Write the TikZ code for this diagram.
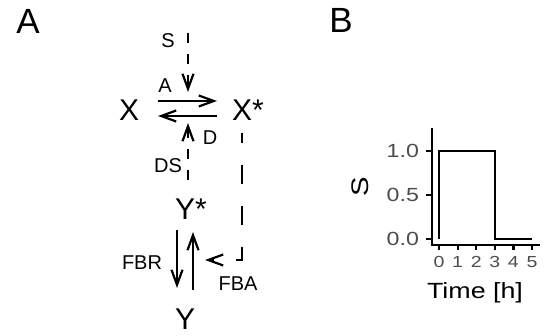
\documentclass[tikz,border=0pt]{standalone}
\usepackage{fontspec}
\usepackage{graphicx}
\setmainfont{Liberation Sans}
\usetikzlibrary{arrows.meta}
\definecolor{tickgray}{gray}{0.3}
\newcommand{\fsz}[1]{\fontsize{#1}{#1}\selectfont}
\newcommand{\wide}[1]{\scalebox{1.22}[1]{#1}}

\begin{document}
\begin{tikzpicture}[x=1pt,y=-1pt,line width=2.2pt,>={Straight Barb[length=15pt,width=11pt]},
	species/.style={inner sep=0pt,anchor=base west,font=\fsz{30}},
	rate/.style={inner sep=0pt,anchor=base,font=\fsz{20}},
	panel/.style={inner sep=0pt,font=\fsz{35}},
	sig/.style={dash pattern=on 10pt off 11pt},
	fb/.style={dash pattern=on 19pt off 22pt,dash phase=9pt},
	ytick/.style={inner sep=0pt,anchor=east,text=tickgray,font=\fsz{19}},
	xtick/.style={inner sep=0pt,text=tickgray,font=\fsz{16}}]
	\useasboundingbox (0,0) rectangle (547,336);
	\node[panel] (pA) at (28,21) {A};
	\node[panel] (pB) at (341,20) {B};
	% species
	\node[species] (X) at (118,121) {X};
	\node[species] (Xs) at (231,121) {X*};
	\node[species] (Ys) at (174,220) {Y*};
	\node[species] (Y) at (174,330) {Y};
	% rates
	\node[rate] (rA) at (165,93) {A};
	\node[rate] (rD) at (210,145) {D};
	\node[rate] (rS) at (168,48) {S};
	\node[rate] (rDS) at (168,173) {DS};
	\node[rate] (rFBR) at (142,270) {FBR};
	\node[rate] (rFBA) at (238,291) {FBA};
	% arrow ends
	\coordinate (aL) at (158,101); \coordinate (aR) at (217,101);
	\coordinate (dL) at (158,116); \coordinate (dR) at (217,116);
	\coordinate (sIn) at (188,33); \coordinate (sOn) at (188,92);
	\coordinate (dsIn) at (188,180); \coordinate (dsOn) at (188,123);
	\coordinate (fbIn) at (242,133); \coordinate (fbC) at (242,260); \coordinate (fbOn) at (205,260);
	\coordinate (rTop) at (177,230); \coordinate (rBot) at (177,288);
	\coordinate (fTop) at (193,232); \coordinate (fBot) at (193,290);
	\draw[->] (aL) -- (aR);
	\draw[->] (dR) -- (dL);
	\draw[->,sig] (sIn) -- (sOn);
	\draw[->,sig] (dsIn) -- (dsOn);
	\draw[->,fb] (fbIn) -- (fbC) -- (fbOn);
	\draw[->] (rTop) -- (rBot);
	\draw[->] (fBot) -- (fTop);
	% panel B: S over time
	\draw[line width=2.4pt] (432,128) -- (432,245) -- (540,245);
	\foreach \v/\y in {0.0/239,0.5/195,1.0/151} {
		\draw (426,\y) -- (432,\y);
		\node[ytick] (yt\v) at (420,\y) {\wide{\v}};
	}
	\foreach \i in {0,...,5} {
		\draw ({439+18.6*\i},245) -- ++(0,5);
		\node[xtick] (xt\i) at ({439+18.6*\i},262) {\wide{\i}};
	}
	\draw[line width=2.6pt] plot coordinates {(439,239) (439,151) (495,151) (495,239) (532,239)};
	\node[rotate=90,inner sep=0pt,font=\fsz{24}] (yl) at (360,187) {\wide{S}};
	\node[inner sep=0pt,font=\fsz{22}] (xl) at (475,293) {\wide{Time [h]}};
\end{tikzpicture}
\end{document}
